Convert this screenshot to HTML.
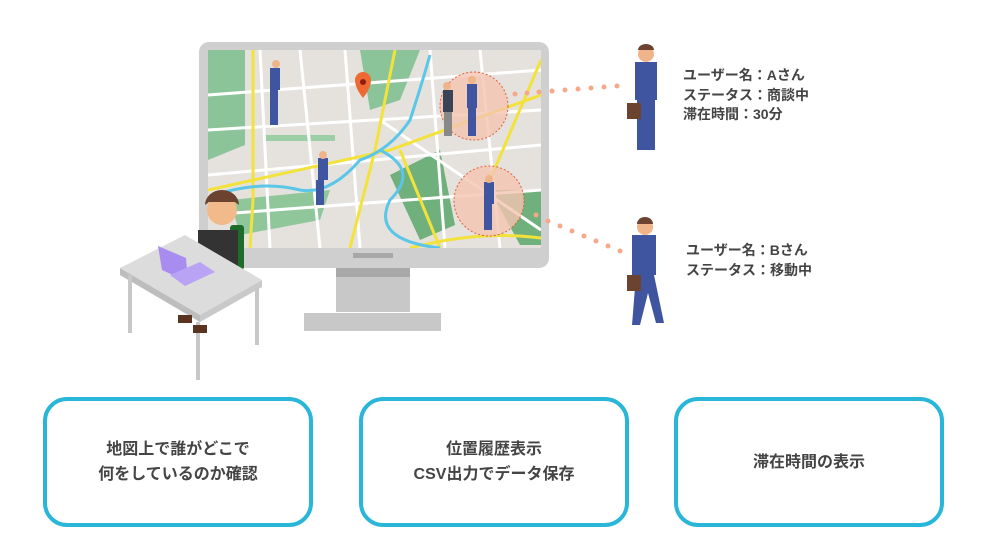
<!DOCTYPE html>
<html><head><meta charset="utf-8"><style>
body{margin:0;background:#fff;width:987px;height:550px;overflow:hidden;position:relative;font-family:"Liberation Sans","Noto Sans CJK JP",sans-serif}
.box{position:absolute;top:397px;width:262px;height:122px;border:4px solid #29b6d8;border-radius:24px;display:flex;align-items:center;justify-content:center;text-align:center;font-size:16px;font-weight:bold;color:#444;line-height:25px;box-sizing:content-box}
.lbl{position:absolute;font-size:14px;font-weight:bold;color:#444;line-height:19.5px}
</style></head><body>
<svg width="987" height="550" style="position:absolute;left:0;top:0">
<defs><clipPath id="sc"><rect x="208" y="50" width="333" height="198"/></clipPath></defs>
<!-- monitor -->
<rect x="199" y="42" width="350" height="226" rx="10" fill="#cfcfcf"/>
<rect x="336" y="268" width="74" height="44" fill="#c8c8c8"/>
<rect x="336" y="268" width="74" height="9" fill="#a9a9a9"/>
<rect x="304" y="313" width="137" height="18" fill="#c8c8c8"/>
<rect x="353" y="253" width="40" height="5" fill="#a8a8a8"/>
<g clip-path="url(#sc)">
<rect x="208" y="50" width="333" height="198" fill="#e5e2de"/>
<path d="M208 50 H245 V145 L208 160Z" fill="#8cc49a"/>
<path d="M490 190 H541 V245 H520 Z" fill="#6fb07c"/>
<path d="M390 175 L440 150 L455 225 L420 240Z" fill="#6fb07c"/>
<path d="M360 50 L420 50 L400 100 L370 110Z" fill="#8cc49a"/>
<path d="M230 200 L330 190 L320 220 L240 235Z" fill="#8fc79b"/>
<rect x="265" y="135" width="70" height="6" fill="#9dcfa6"/>
<g stroke="#fff" stroke-width="3" fill="none">
<path d="M208 95 L541 70"/><path d="M208 130 L541 110"/><path d="M208 175 L541 145"/>
<path d="M260 50 L270 248"/><path d="M300 50 L320 248"/><path d="M345 50 L360 248"/><path d="M430 50 L445 248"/><path d="M480 50 L500 248"/>
<path d="M208 215 L541 190"/><path d="M380 120 L541 230"/>
</g>
<g stroke="#f2e23a" stroke-width="3" fill="none">
<path d="M253 50 V200 L250 248"/><path d="M208 190 L390 150 L541 95"/><path d="M395 50 L375 150 L350 248"/><path d="M400 150 L440 248"/><path d="M410 248 Q480 230 541 238"/><path d="M490 180 L541 60"/>
</g>
<path d="M215 195 Q260 180 300 190 Q330 195 360 160 Q390 150 410 120 Q420 90 430 55" stroke="#5bc6e8" stroke-width="3" fill="none"/>
<path d="M380 150 Q420 170 390 200 Q370 240 440 248" stroke="#5bc6e8" stroke-width="3" fill="none"/>
<circle cx="474" cy="106" r="34" fill="#f4c4b0" fill-opacity=".8" stroke="#e0603a" stroke-dasharray="2 2"/>
<circle cx="489" cy="201" r="35" fill="#f4c4b0" fill-opacity=".8" stroke="#e0603a" stroke-dasharray="2 2"/>
</g>
<!-- pin -->
<path d="M355 80 a8 8 0 1 1 16 0 q0 8 -8 18 q-8 -10 -8 -18z" fill="#ef6a33"/><circle cx="363" cy="82" r="3" fill="#8b1e10"/>
<!-- dotted connectors -->
<g fill="#f5a98a"><circle cx="515" cy="94" r="2.5"/><circle cx="527" cy="93" r="2.5"/><circle cx="539" cy="92" r="2.5"/><circle cx="552" cy="91" r="2.5"/><circle cx="565" cy="90" r="2.5"/><circle cx="578" cy="89" r="2.5"/><circle cx="591" cy="88" r="2.5"/><circle cx="604" cy="87" r="2.5"/><circle cx="617" cy="86" r="2.5"/>
<circle cx="536" cy="215" r="2.5"/><circle cx="548" cy="221" r="2.5"/><circle cx="560" cy="226" r="2.5"/><circle cx="572" cy="231" r="2.5"/><circle cx="584" cy="236" r="2.5"/><circle cx="596" cy="241" r="2.5"/><circle cx="608" cy="246" r="2.5"/><circle cx="620" cy="251" r="2.5"/></g>
<!-- small map people -->
<g fill="#3f55a0"><rect x="270" y="68" width="10" height="22"/><rect x="270" y="90" width="8" height="35"/><rect x="318" y="158" width="10" height="22"/><rect x="316" y="180" width="8" height="25"/>
<rect x="467" y="84" width="10" height="24"/><rect x="468" y="108" width="8" height="28"/><rect x="484" y="182" width="10" height="22"/><rect x="484" y="204" width="8" height="26"/></g>
<rect x="443" y="90" width="10" height="22" fill="#3a4457"/><rect x="444" y="112" width="8" height="24" fill="#888"/>
<g fill="#f0b48a"><circle cx="276" cy="64" r="4"/><circle cx="323" cy="155" r="4"/><circle cx="472" cy="80" r="4"/><circle cx="447" cy="86" r="4"/><circle cx="489" cy="179" r="4"/></g>
<!-- right people -->
<g fill="#3f55a0"><rect x="635" y="62" width="22" height="38"/><rect x="637" y="100" width="18" height="50"/><rect x="632" y="235" width="24" height="40"/><path d="M636 275 h18 l10 48 h-8 l-8 -30 l-8 32 h-8z"/></g>
<rect x="627" y="103" width="14" height="16" fill="#6b4330"/><rect x="627" y="275" width="14" height="16" fill="#6b4330"/>
<circle cx="646" cy="54" r="8" fill="#f0b48a"/><circle cx="645" cy="227" r="8" fill="#f0b48a"/>
<path d="M638 50 a8 6 0 0 1 16 0z" fill="#6b4330"/><path d="M637 224 a8 7 0 0 1 16 0z" fill="#6b4330"/>
<!-- desk person -->
<circle cx="222" cy="210" r="15" fill="#f2b98a"/><path d="M205 205 a17 15 0 0 1 34 0 l-4 -3 h-26z" fill="#6b4330"/>
<rect x="230" y="225" width="14" height="45" rx="3" fill="#1f6b2a"/>
<path d="M198 230 h40 v50 h-40z" fill="#333"/>
<path d="M120 268 L185 235 L262 280 L200 315Z" fill="#dcdcdc"/>
<path d="M120 268 L200 315 L200 322 L120 275Z" fill="#bdbdbd"/><path d="M200 315 L262 280 V287 L200 322Z" fill="#c9c9c9"/>
<rect x="128" y="275" width="4" height="58" fill="#c8c8c8"/><rect x="196" y="322" width="4" height="58" fill="#c8c8c8"/><rect x="255" y="287" width="4" height="58" fill="#c8c8c8"/>
<path d="M158 246 L186 258 L188 282 L162 270Z" fill="#a98cf0"/><path d="M170 275 L200 262 L215 272 L185 286Z" fill="#b9a3f5"/>
<rect x="178" y="315" width="14" height="8" fill="#5a3420"/><rect x="193" y="325" width="14" height="8" fill="#5a3420"/>
</svg>
<div class="lbl" style="left:683px;top:66px">ユーザー名：Aさん<br>ステータス：商談中<br>滞在時間：30分</div>
<div class="lbl" style="left:686px;top:241px">ユーザー名：Bさん<br>ステータス：移動中</div>
<div class="box" style="left:43px">地図上で誰がどこで<br>何をしているのか確認</div>
<div class="box" style="left:359px">位置履歴表示<br>CSV出力でデータ保存</div>
<div class="box" style="left:674px">滞在時間の表示</div>
</body></html>
